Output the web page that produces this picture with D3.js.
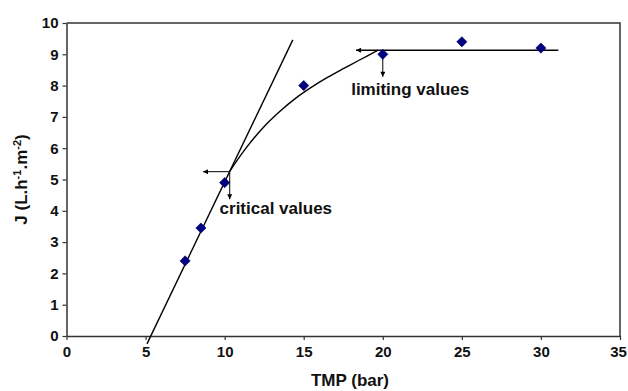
<!DOCTYPE html>
<html>
<head>
<meta charset="utf-8">
<script src="https://cdn.jsdelivr.net/npm/d3@7"></script>
<style>
  html, body { margin: 0; padding: 0; background: #fff; }
  svg { display: block; font-family: "Liberation Sans", Arial, sans-serif; font-weight: bold; }
</style>
</head>
<body>
<svg id="chart" width="628" height="391"></svg>
<script>
// Measured flux J against transmembrane pressure
const tmp = [7.5, 8.5, 10, 15, 20, 25, 30];
const flux = [2.4, 3.45, 4.9, 8.0, 9.0, 9.4, 9.2];

// Hand-drawn trend: linear tangent and the bending curve towards the plateau
const tangentX = [5.09, 14.31];
const tangentY = [-0.25, 9.46];
const curveX = [10.32, 11.3, 12.4, 13.5, 14.5, 15.5, 16.5, 17.5, 18.5, 19.7];
const curveY = [5.26, 5.97, 6.64, 7.18, 7.6, 7.95, 8.26, 8.54, 8.81, 9.13];
const plateauX = [31.1, 18.31];
const plateauY = [9.13, 9.13];

// Arrows marking the critical and limiting points: [x1, y1, x2, y2]
const arrows = [
  [10.32, 5.25, 8.63, 5.25],
  [10.32, 5.25, 10.32, 4.37],
  [20.0, 9.13, 20.0, 8.28]
];
const labelText = ["critical values", "limiting values"];
const labelX = [9.68, 18.0];
const labelY = [3.9, 7.7];

// Axis ticks
const xTicks = [0, 5, 10, 15, 20, 25, 30, 35];
const yTicks = [0, 1, 2, 3, 4, 5, 6, 7, 8, 9, 10];

const svg = d3.select("#chart");
const x = d3.scaleLinear().domain([0, 35]).range([66.5, 620]);
const y = d3.scaleLinear().domain([0, 10]).range([336, 23]);

const defs = svg.append("defs");
defs.append("marker")
  .attr("id", "head")
  .attr("viewBox", "0 0 10 10")
  .attr("refX", 10).attr("refY", 5)
  .attr("markerWidth", 6).attr("markerHeight", 5)
  .attr("markerUnits", "userSpaceOnUse")
  .attr("orient", "auto")
  .append("path").attr("d", "M0,0L10,5L0,10Z").attr("fill", "#000");

// Plot frame (top and right edges)
svg.append("path")
  .attr("d", `M${x(0)},${y(10)}H${x(35)}V${y(0)}`)
  .attr("fill", "none").attr("stroke", "#333").attr("stroke-width", 1.5);

// Axes
const xAxis = svg.append("g")
  .attr("transform", `translate(0,${y(0)})`)
  .call(d3.axisBottom(x).tickValues(xTicks).tickSizeInner(4).tickSizeOuter(0).tickPadding(6));
const yAxis = svg.append("g")
  .attr("transform", `translate(${x(0)},0)`)
  .call(d3.axisLeft(y).tickValues(yTicks).tickSizeInner(4).tickSizeOuter(0).tickPadding(4));
[xAxis, yAxis].forEach(g => {
  g.select(".domain").attr("stroke", "#333").attr("stroke-width", 1.5);
  g.selectAll(".tick line").attr("stroke", "#333").attr("stroke-width", 1.2);
  g.selectAll(".tick text")
    .attr("fill", "#111")
    .style("font-size", "15px")
    .style("font-weight", "bold")
    .style("font-family", "'Liberation Sans', Arial, sans-serif");
});
// keep the last x label inside the page edge
xAxis.selectAll(".tick text").filter(d => d === 35).attr("dx", -2);

// Axis titles
svg.append("text")
  .attr("x", 350).attr("y", 386)
  .attr("text-anchor", "middle")
  .style("font-size", "17px").attr("fill", "#111")
  .text("TMP (bar)");

const yTitle = svg.append("text")
  .attr("transform", `translate(27,${(y(0) + y(10)) / 2}) rotate(-90)`)
  .attr("text-anchor", "middle")
  .style("font-size", "17px").attr("fill", "#111");
yTitle.append("tspan").text("J (L.h");
yTitle.append("tspan").attr("dy", -6).style("font-size", "11px").text("-1");
yTitle.append("tspan").attr("dy", 6).text(".m");
yTitle.append("tspan").attr("dy", -6).style("font-size", "11px").text("-2");
yTitle.append("tspan").attr("dy", 6).text(")");

// Trend lines
const straight = d3.line().x(d => x(d[0])).y(d => y(d[1]));
const smooth = d3.line().x(d => x(d[0])).y(d => y(d[1])).curve(d3.curveCatmullRom.alpha(0.5));
svg.append("path")
  .attr("d", straight(tangentX.map((v, i) => [v, tangentY[i]])))
  .attr("fill", "none").attr("stroke", "#000").attr("stroke-width", 1.4);
svg.append("path")
  .attr("d", smooth(curveX.map((v, i) => [v, curveY[i]])))
  .attr("fill", "none").attr("stroke", "#000").attr("stroke-width", 1.4);
svg.append("path")
  .attr("d", straight(plateauX.map((v, i) => [v, plateauY[i]])))
  .attr("fill", "none").attr("stroke", "#000").attr("stroke-width", 1.4)
  .attr("marker-end", "url(#head)");

// Arrows
svg.append("g").selectAll("line").data(arrows).join("line")
  .attr("x1", d => x(d[0])).attr("y1", d => y(d[1]))
  .attr("x2", d => x(d[2])).attr("y2", d => y(d[3]))
  .attr("stroke", "#000").attr("stroke-width", 1)
  .attr("marker-end", "url(#head)");

// Data markers (diamonds)
const diamond = d3.symbol().type(d3.symbolSquare).size(52);
svg.append("g").selectAll("path").data(tmp).join("path")
  .attr("d", diamond)
  .attr("transform", (d, i) => `translate(${x(d)},${y(flux[i])}) rotate(45)`)
  .attr("fill", "#000080").attr("stroke", "#000066").attr("stroke-width", 0.6);

// Annotation labels
svg.append("g").selectAll("text").data(labelText).join("text")
  .attr("x", (d, i) => x(labelX[i])).attr("y", (d, i) => y(labelY[i]))
  .style("font-size", "17px").attr("fill", "#111")
  .text(d => d);
</script>
</body>
</html>
